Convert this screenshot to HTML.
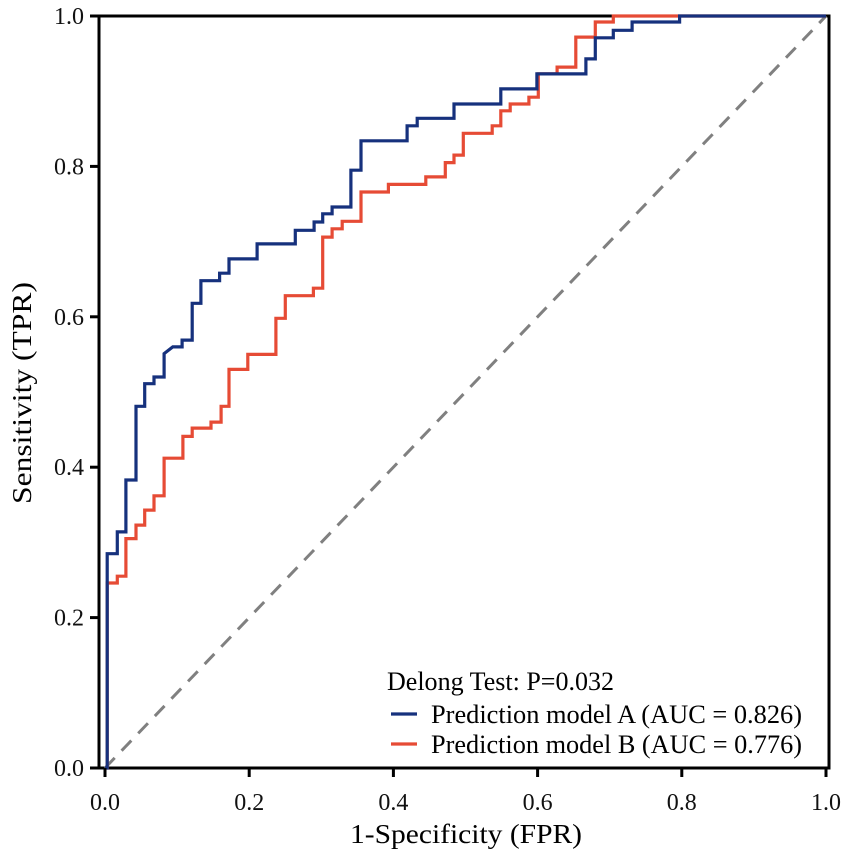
<!DOCTYPE html>
<html><head><meta charset="utf-8"><style>
html,body{margin:0;padding:0;background:#fff}
svg{display:block;font-family:"Liberation Serif",serif}
</style></head><body>
<svg id="chart" width="851" height="858"></svg>
<script>
const xTicks=[0,0.2,0.4,0.6,0.8,1.0];
const yTicks=[0,0.2,0.4,0.6,0.8,1.0];
const tickLabels=["0.0","0.2","0.4","0.6","0.8","1.0"];
const fprA=[0,0.003,0.003,0.017,0.017,0.029,0.029,0.043,0.043,0.055,0.055,0.068,0.068,0.082,0.082,0.094,0.107,0.107,0.121,0.121,0.133,0.133,0.159,0.159,0.172,0.172,0.211,0.211,0.264,0.264,0.29,0.29,0.302,0.302,0.315,0.315,0.341,0.341,0.355,0.355,0.419,0.419,0.433,0.433,0.484,0.484,0.549,0.549,0.599,0.599,0.667,0.667,0.68,0.68,0.705,0.705,0.731,0.731,0.797,0.797,1.0];
const tprA=[0,0,0.285,0.285,0.314,0.314,0.383,0.383,0.481,0.481,0.511,0.511,0.52,0.52,0.551,0.56,0.56,0.569,0.569,0.618,0.618,0.648,0.648,0.658,0.658,0.677,0.677,0.697,0.697,0.715,0.715,0.726,0.726,0.737,0.737,0.746,0.746,0.795,0.795,0.834,0.834,0.854,0.854,0.864,0.864,0.883,0.883,0.903,0.903,0.923,0.923,0.943,0.943,0.971,0.971,0.981,0.981,0.992,0.992,1.0,1.0];
const fprB=[0,0.003,0.003,0.017,0.017,0.029,0.029,0.043,0.043,0.055,0.055,0.068,0.068,0.082,0.082,0.108,0.108,0.121,0.121,0.147,0.147,0.161,0.161,0.172,0.172,0.198,0.198,0.237,0.237,0.25,0.25,0.289,0.289,0.302,0.302,0.315,0.315,0.329,0.329,0.355,0.355,0.393,0.393,0.445,0.445,0.472,0.472,0.484,0.484,0.497,0.497,0.537,0.537,0.549,0.549,0.562,0.562,0.588,0.588,0.601,0.601,0.627,0.627,0.653,0.653,0.68,0.68,0.705,0.705,1.0];
const tprB=[0,0,0.246,0.246,0.255,0.255,0.305,0.305,0.323,0.323,0.343,0.343,0.362,0.362,0.412,0.412,0.441,0.441,0.452,0.452,0.46,0.46,0.481,0.481,0.53,0.53,0.55,0.55,0.598,0.598,0.628,0.628,0.638,0.638,0.706,0.706,0.717,0.717,0.727,0.727,0.766,0.766,0.776,0.776,0.786,0.786,0.805,0.805,0.815,0.815,0.844,0.844,0.854,0.854,0.874,0.874,0.883,0.883,0.892,0.892,0.923,0.923,0.932,0.932,0.972,0.972,0.992,0.992,1.0,1.0];
const NS="http://www.w3.org/2000/svg";
const svg=document.getElementById('chart');
const X0=105,X1=826,Y0=768,Y1=16;
const sx=v=>X0+v*(X1-X0), sy=v=>Y0-v*(Y0-Y1);
function mk(tag,attrs,parent){const e=document.createElementNS(NS,tag);for(const k in attrs)e.setAttribute(k,attrs[k]);(parent||svg).appendChild(e);return e;}
const frame=mk('rect',{x:99,y:16,width:730,height:752,fill:'none',stroke:'#000','stroke-width':3});


const diag=mk('line',{x1:sx(0),y1:sy(0),x2:sx(1),y2:sy(1),stroke:'#808080','stroke-width':3,'stroke-dasharray':'14,10'});


function path(fx,ty,color,name){let d='';for(let i=0;i<fx.length;i++)d+=(i?'L':'M')+sx(fx[i]).toFixed(1)+','+sy(ty[i]).toFixed(1);
const p=mk('path',{d:d,fill:'none',stroke:color,'stroke-width':3.2,'stroke-linejoin':'miter'});

}
path(fprB,tprB,'#e64b35','roc-curve-model-b');
path(fprA,tprA,'#16317d','roc-curve-model-a');
xTicks.forEach((v,i)=>{
 const t=mk('line',{x1:sx(v),y1:768,x2:sx(v),y2:777,stroke:'#000','stroke-width':3});
 
 
 const l=mk('text',{x:sx(v),y:810,'text-anchor':'middle','font-size':24,fill:'#111'});l.textContent=tickLabels[i];
 
 
});
yTicks.forEach((v,i)=>{
 const t=mk('line',{x1:90,y1:sy(v),x2:99,y2:sy(v),stroke:'#000','stroke-width':3});
 
 
 const l=mk('text',{x:84,y:sy(v)+8,'text-anchor':'end','font-size':24,fill:'#111'});l.textContent=tickLabels[i];
 
 
});
const xt=mk('text',{x:466,y:843,'text-anchor':'middle','font-size':27,textLength:232,lengthAdjust:'spacingAndGlyphs'});xt.textContent='1-Specificity (FPR)';


const yt=mk('text',{x:0,y:0,'text-anchor':'middle','font-size':27,textLength:222,lengthAdjust:'spacingAndGlyphs',transform:'translate(31,393) rotate(-90)'});yt.textContent='Sensitivity (TPR)';


const lt=mk('text',{x:387,y:690,'font-size':26,textLength:227,lengthAdjust:'spacingAndGlyphs'});lt.textContent='Delong Test: P=0.032';


[['#16317d','Prediction model A (AUC = 0.826)',723,714,'legend-entry-a'],['#e64b35','Prediction model B (AUC = 0.776)',753,744,'legend-entry-b']].forEach(r=>{
 const g=mk('g',{});
 
 
 mk('line',{x1:391,y1:r[3],x2:417,y2:r[3],stroke:r[0],'stroke-width':3.2},g);
 const t=mk('text',{x:431,y:r[2],'font-size':26,textLength:371,lengthAdjust:'spacingAndGlyphs'},g);t.textContent=r[1];
});
</script>
</body></html>
